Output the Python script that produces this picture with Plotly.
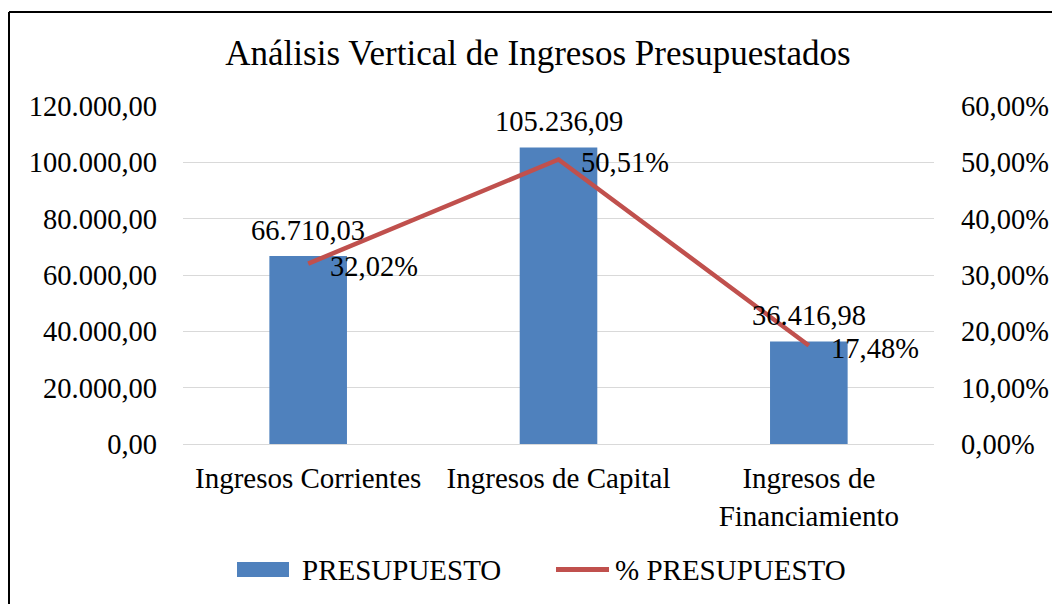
import plotly.graph_objects as go

categories = ["Ingresos Corrientes", "Ingresos de Capital", "Ingresos de<br>Financiamiento"]
presupuesto = [66710.03, 105236.09, 36416.98]
pct_presupuesto = [32.02, 50.51, 17.48]
bar_labels = ["66.710,03", "105.236,09", "36.416,98"]
pct_labels = ["32,02%", "50,51%", "17,48%"]
series_names = ["PRESUPUESTO", "% PRESUPUESTO"]
title_text = "Análisis Vertical de Ingresos Presupuestados"

FONT = "Liberation Serif"
BLUE = "#4F81BD"
RED = "#C0504D"
OFF = 8  # page body margin
W, H = 1060 - OFF, 604 - OFF
L, T = 183 - OFF, 106 - OFF
R, B = W - (934 - OFF), H - (444 - OFF)
PW, PH = W - L - R, H - T - B


def px(x):  # page x -> paper
    return (x - OFF - L) / PW


def py(y):  # page y -> paper
    return (H - B - (y - OFF)) / PH


fig = go.Figure()
fig.add_trace(go.Bar(x=categories, y=presupuesto, name=series_names[0],
                     marker=dict(color=BLUE, line=dict(width=0)), yaxis="y", showlegend=False))
fig.add_trace(go.Scatter(x=categories, y=pct_presupuesto, name=series_names[1],
                         mode="lines", line=dict(color=RED, width=4.5), yaxis="y2", showlegend=False))

tf = dict(family=FONT, size=28.5, color="black")
cf = dict(family=FONT, size=29, color="black")
annotations = []
for c, v, t in zip(categories, presupuesto, bar_labels):
    annotations.append(dict(x=c, y=v, xref="x", yref="y", text=t, showarrow=False,
                            yshift=26, font=tf))
for c, v, t in zip(categories, pct_presupuesto, pct_labels):
    annotations.append(dict(x=c, y=v, xref="x", yref="y2", text=t, showarrow=False,
                            xanchor="left", xshift=20, yshift=-3, font=tf))

# legend drawn by hand
annotations.append(dict(x=px(300), y=py(570), xref="paper", yref="paper", text=series_names[0],
                        showarrow=False, xanchor="left", yanchor="middle", font=cf))
annotations.append(dict(x=px(613), y=py(570), xref="paper", yref="paper", text=series_names[1],
                        showarrow=False, xanchor="left", yanchor="middle", font=cf))

shapes = [
    # chart frame (left and top edges visible)
    dict(type="line", xref="paper", yref="paper",
         x0=px(9), x1=px(9), y0=py(640), y1=py(12),
         line=dict(color="black", width=2), layer="below"),
    dict(type="line", xref="paper", yref="paper",
         x0=px(9), x1=px(1080), y0=py(12), y1=py(12),
         line=dict(color="black", width=2), layer="below"),
    dict(type="rect", xref="paper", yref="paper",
         x0=px(237), x1=px(289), y0=py(577), y1=py(562),
         line=dict(width=0), fillcolor=BLUE),
    dict(type="line", xref="paper", yref="paper",
         x0=px(556), x1=px(609), y0=py(569.5), y1=py(569.5),
         line=dict(color=RED, width=5)),
]

fig.update_layout(
    width=W, height=H,
    margin=dict(l=L, r=R, t=T, b=B, autoexpand=False),
    paper_bgcolor="white", plot_bgcolor="white",
    separators=",.",
    font=dict(family=FONT, size=28.5, color="black"),
    title=dict(text=title_text, xref="container", x=(538 - OFF) / W, xanchor="center",
               yref="container", y=1 - (53 - OFF) / H, yanchor="middle",
               font=dict(family=FONT, size=35, color="black")),
    bargap=0.69,
    showlegend=False,
    xaxis=dict(showgrid=False, showline=False, ticks="", ticklabelstandoff=14,
               tickfont=cf, automargin=False),
    yaxis=dict(range=[0, 120000], dtick=20000, tickformat=",.2f", showgrid=True,
               gridcolor="#D9D9D9", gridwidth=1, zeroline=True, zerolinecolor="#D9D9D9",
               zerolinewidth=1, showline=False, ticks="", ticklabelstandoff=25,
               tickfont=tf, automargin=False),
    yaxis2=dict(range=[0, 60], dtick=10, tickformat=".2f", ticksuffix="%", overlaying="y",
                side="right", showgrid=False, zeroline=False, showline=False, ticks="",
                ticklabelstandoff=26, tickfont=tf, automargin=False),
    annotations=annotations,
    shapes=shapes,
)

fig.write_html("out.html")
